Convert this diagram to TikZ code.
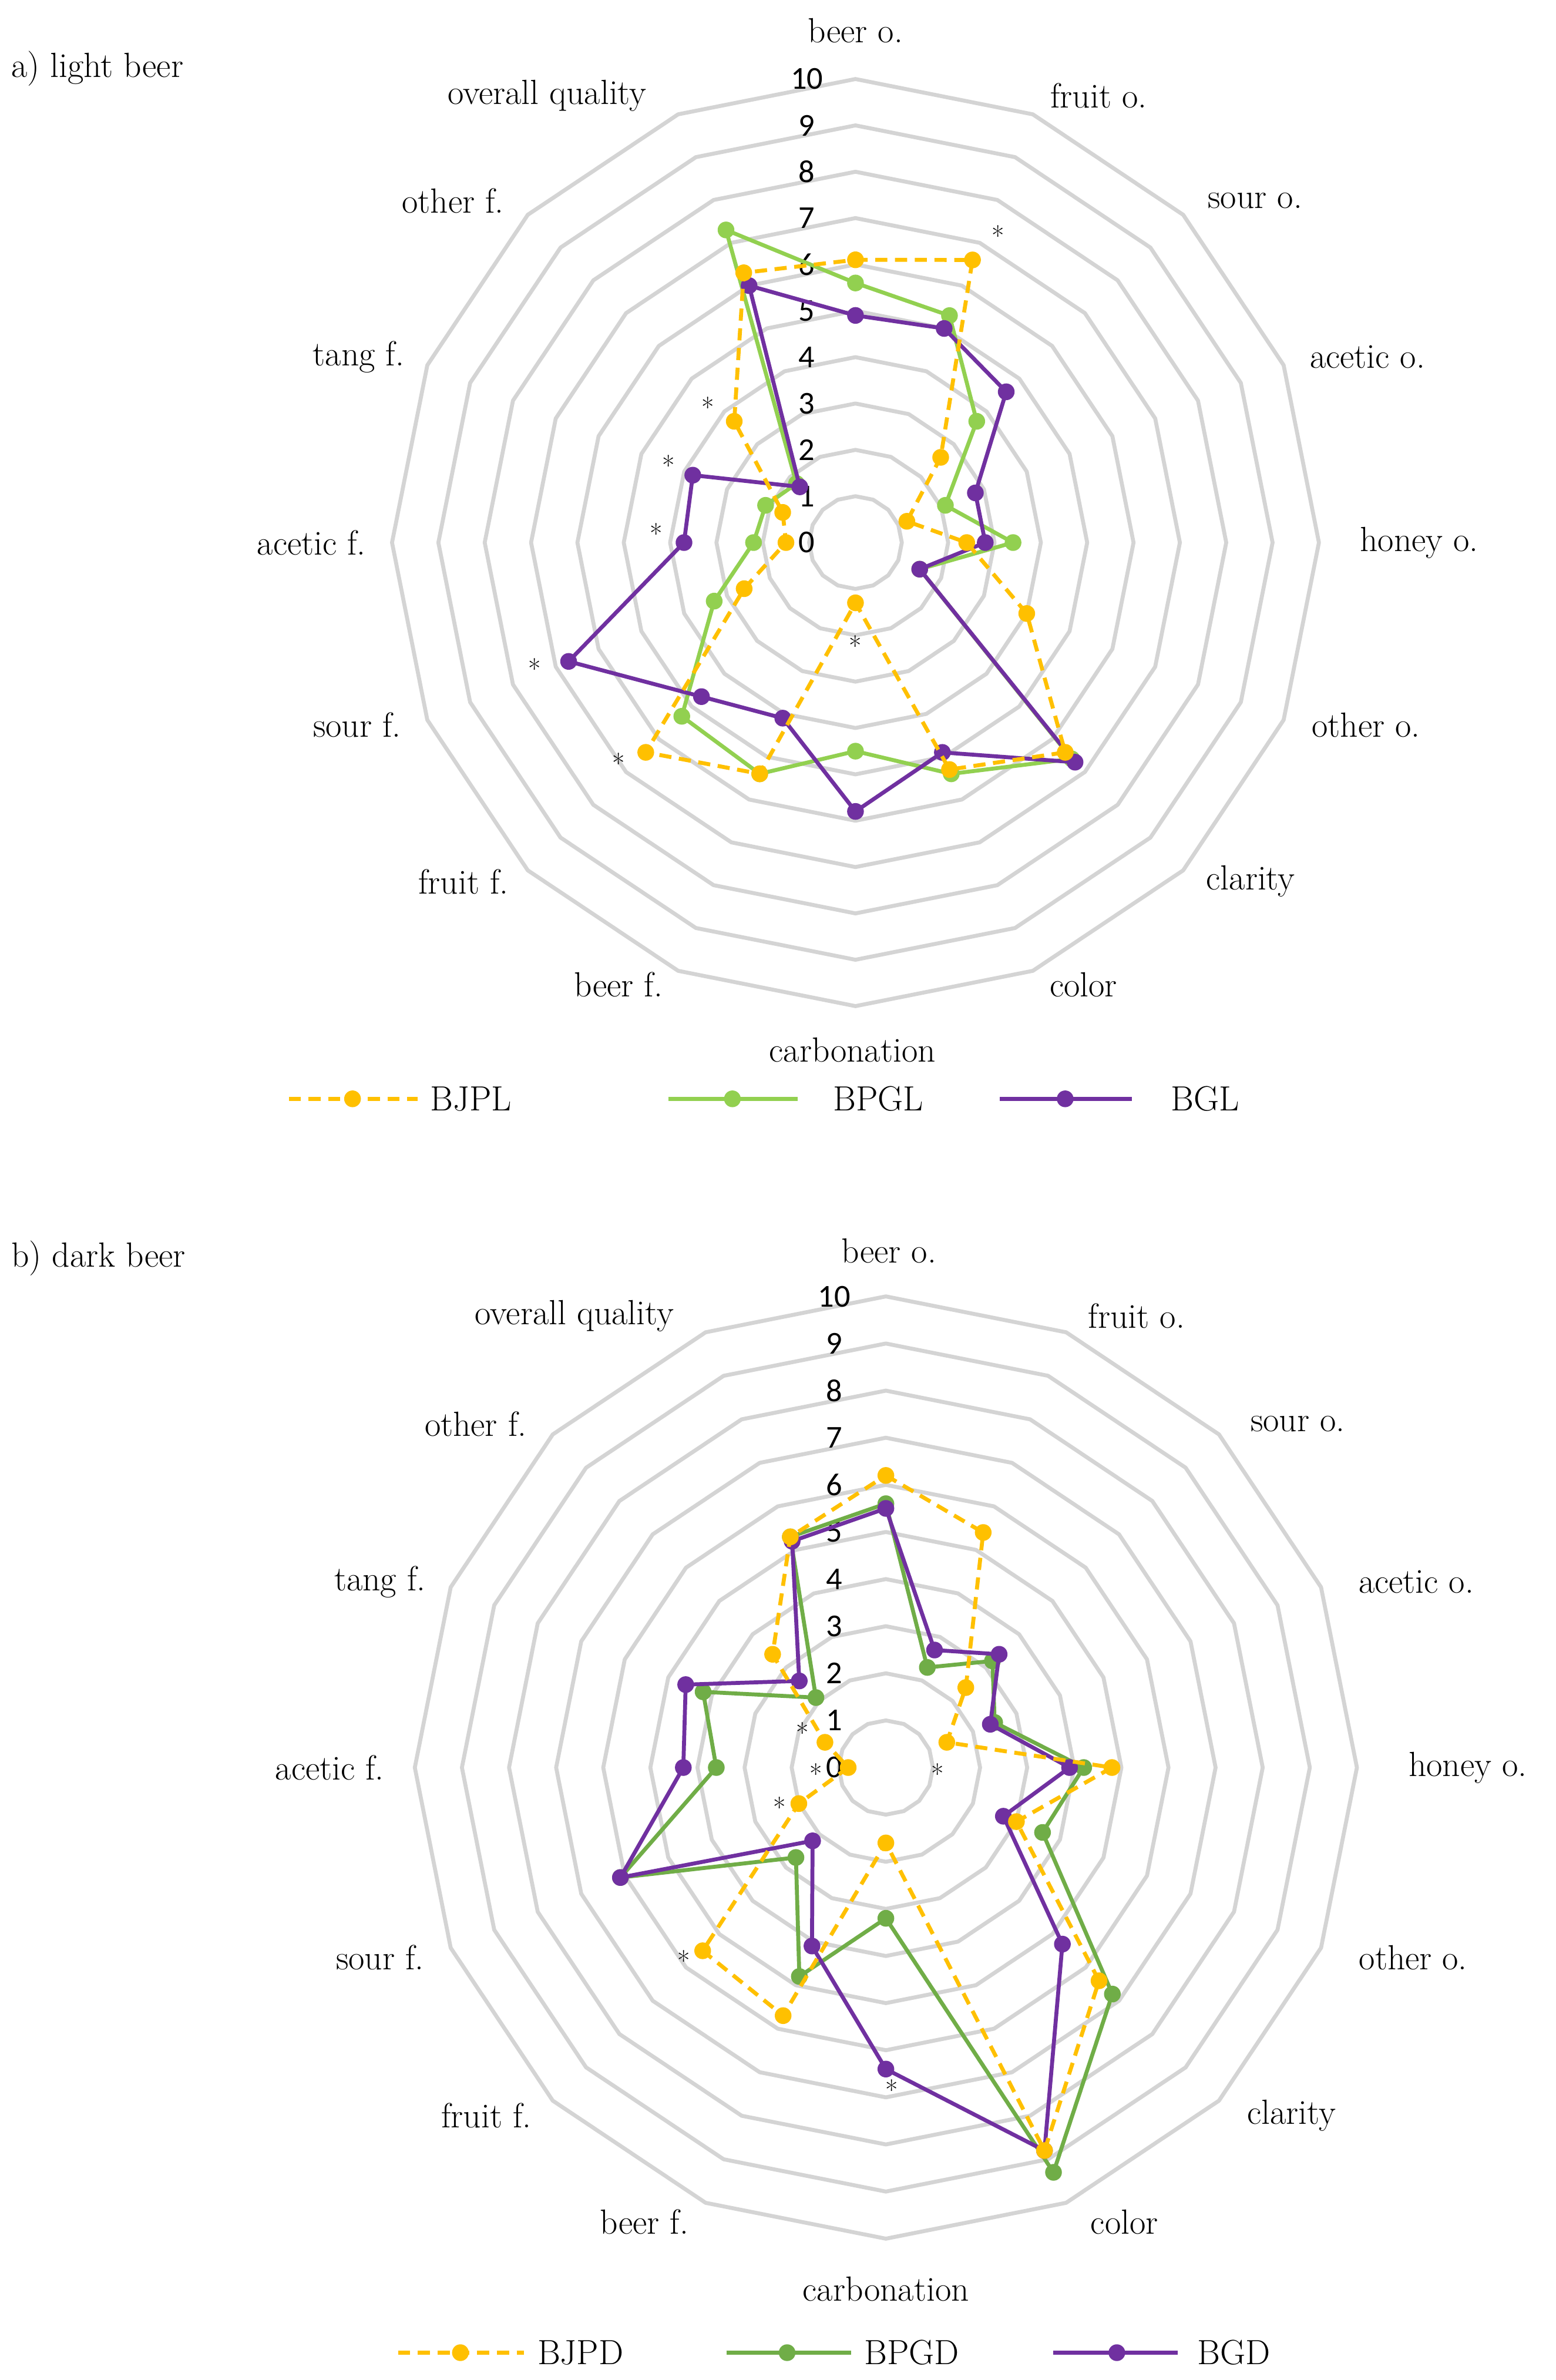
\documentclass[tikz,border=0pt]{standalone}
\usepackage{fontspec}
\newfontfamily\numfont{Carlito}
\begin{document}
\begin{tikzpicture}[x=1pt,y=-1pt,
  grid/.style={draw=black!17,line width=2.6pt,line join=round},
  lab/.style={font=\fontsize{23}{26}\selectfont},
  num/.style={font=\numfont\fontsize{21}{24}\selectfont,inner sep=0pt},
  ser/.style={line width=2.6pt,line join=round},
  dot/.style={circle,inner sep=0pt,minimum size=11pt},
  ast/.style={font=\fontsize{18}{20}\selectfont,inner sep=0pt}]
\definecolor{cyel}{HTML}{FFC000}
\definecolor{clg}{HTML}{92D050}
\definecolor{cdg}{HTML}{70AD47}
\definecolor{cpu}{HTML}{7030A0}
\useasboundingbox (0,0) rectangle (1024,1566);
\fill[white] (0,0) rectangle (1024,1566);
\newcommand\mkseries[5]{%
  \foreach \v [count=\i from 0] in {#5} {
    \coordinate (#1\i) at ({#2+\v*#4*sin(22.5*\i)},{#3-\v*#4*cos(22.5*\i)});
  }}
\newcommand\gridat[3]{%
  \foreach \k in {1,...,10} {
    \draw[grid] ({#1},{#2-\k*#3}) foreach \i in {1,...,15}{ -- ({#1+\k*#3*sin(22.5*\i)},{#2-\k*#3*cos(22.5*\i)})} -- cycle;
  }}
% ---------- chart a ----------
\gridat{563}{357}{30.5}
\foreach \k in {0,...,10} \node[num] (na\k) at (531,{357-\k*30.5}) {\k};
\mkseries{ay}{563}{357}{30.5}{6.1,6.6,2.6,1.2,2.4,4.0,6.4,5.3,1.3,5.4,6.4,2.6,1.5,1.7,3.7,6.3}
\mkseries{ag}{563}{357}{30.5}{5.6,5.3,3.7,2.1,3.4,1.5,6.6,5.4,4.5,5.4,5.3,3.3,2.2,2.1,1.8,7.3}
\mkseries{ap}{563}{357}{30.5}{4.9,5.0,4.6,2.8,2.8,1.5,6.7,4.9,5.8,4.1,4.7,6.7,3.7,3.8,1.7,6.0}
\draw[ser,clg] (ag0) foreach \i in {1,...,15}{ -- (ag\i)} -- cycle;
\foreach \i in {0,...,15} \node[dot,fill=clg] at (ag\i) {};
\draw[ser,cpu] (ap0) foreach \i in {1,...,15}{ -- (ap\i)} -- cycle;
\foreach \i in {0,...,15} \node[dot,fill=cpu] at (ap\i) {};
\draw[ser,cyel,dash pattern=on 8pt off 5pt] (ay0) foreach \i in {1,...,15}{ -- (ay\i)} -- cycle;
\foreach \i in {0,...,15} \node[dot,fill=cyel] at (ay\i) {};
\foreach \x/\y [count=\j] in {657/155,563/425,407/502,352/440,432/351,440/306,466/268}
  \node[ast] (aa\j) at (\x,\y) {*};
\foreach \t/\x/\y [count=\j] in {beer o./563/20,fruit o./723/63,sour o./826/132,acetic o./900/235,honey o./934/357,other o./899/477,clarity/823/580,color/713/648,carbonation/561/691,beer f./407/648,fruit f./305/580,sour f./235/477,acetic f./205/357,tang f./236/235,other f./298/132,overall quality/360/63}
  \node[lab] (la\j) at (\x,\y) {\t};
\node[lab,anchor=west] (ta) at (4,45) {a) light beer};
\coordinate (l1a) at (190,723); \coordinate (l1b) at (275,723);
\draw[ser,cyel,dash pattern=on 8pt off 5pt] (l1a) -- (l1b); \node[dot,fill=cyel] at (232,723) {};
\node[lab] (lg1) at (310,723) {BJPL};
\coordinate (l2a) at (440,723); \coordinate (l2b) at (525,723);
\draw[ser,clg] (l2a) -- (l2b); \node[dot,fill=clg] at (482,723) {};
\node[lab] (lg2) at (578,723) {BPGL};
\coordinate (l3a) at (658,723); \coordinate (l3b) at (745,723);
\draw[ser,cpu] (l3a) -- (l3b); \node[dot,fill=cpu] at (701,723) {};
\node[lab] (lg3) at (793,723) {BGL};
% ---------- chart b ----------
\gridat{583}{1163}{31}
\foreach \k in {0,...,10} \node[num] (nb\k) at (549,{1163-\k*31}) {\k};
\mkseries{by}{583}{1163}{31}{6.2,5.4,2.4,1.4,4.8,3.0,6.4,8.8,1.6,5.7,5.5,2.0,0.8,1.4,3.4,5.3}
\mkseries{bg}{583}{1163}{31}{5.6,2.3,3.2,2.5,4.2,3.6,6.8,9.3,3.2,4.8,2.7,6.1,3.6,4.2,2.1,5.3}
\mkseries{bp}{583}{1163}{31}{5.5,2.7,3.4,2.4,3.9,2.7,5.3,8.8,6.4,4.1,2.2,6.1,4.3,4.6,2.6,5.2}
\draw[ser,cdg] (bg0) foreach \i in {1,...,15}{ -- (bg\i)} -- cycle;
\foreach \i in {0,...,15} \node[dot,fill=cdg] at (bg\i) {};
\draw[ser,cpu] (bp0) foreach \i in {1,...,15}{ -- (bp\i)} -- cycle;
\foreach \i in {0,...,15} \node[dot,fill=cpu] at (bp\i) {};
\draw[ser,cyel,dash pattern=on 8pt off 5pt] (by0) foreach \i in {1,...,15}{ -- (by\i)} -- cycle;
\foreach \i in {0,...,15} \node[dot,fill=cyel] at (by\i) {};
\foreach \x/\y [count=\j] in {528/1140,537/1167,513/1189,450/1290,587/1375,617/1167}
  \node[ast] (ab\j) at (\x,\y) {*};
\foreach \t/\x/\y [count=\j] in {beer o./585/823,fruit o./748/866,sour o./854/937,acetic o./932/1041,honey o./966/1163,other o./930/1288,clarity/850/1392,color/740/1462,carbonation/583/1506,beer f./424/1462,fruit f./320/1392,sour f./250/1288,acetic f./217/1163,tang f./250/1041,other f./313/937,overall quality/378/866}
  \node[lab] (lb\j) at (\x,\y) {\t};
\node[lab,anchor=west] (tb) at (4,828) {b) dark beer};
\coordinate (m1a) at (262,1548); \coordinate (m1b) at (345,1548);
\draw[ser,cyel,dash pattern=on 8pt off 5pt] (m1a) -- (m1b); \node[dot,fill=cyel] at (303,1548) {};
\node[lab] (mg1) at (382,1548) {BJPD};
\coordinate (m2a) at (478,1548); \coordinate (m2b) at (560,1548);
\draw[ser,cdg] (m2a) -- (m2b); \node[dot,fill=cdg] at (518,1548) {};
\node[lab] (mg2) at (600,1548) {BPGD};
\coordinate (m3a) at (693,1548); \coordinate (m3b) at (775,1548);
\draw[ser,cpu] (m3a) -- (m3b); \node[dot,fill=cpu] at (735,1548) {};
\node[lab] (mg3) at (812,1548) {BGD};
\end{tikzpicture}
\end{document}
